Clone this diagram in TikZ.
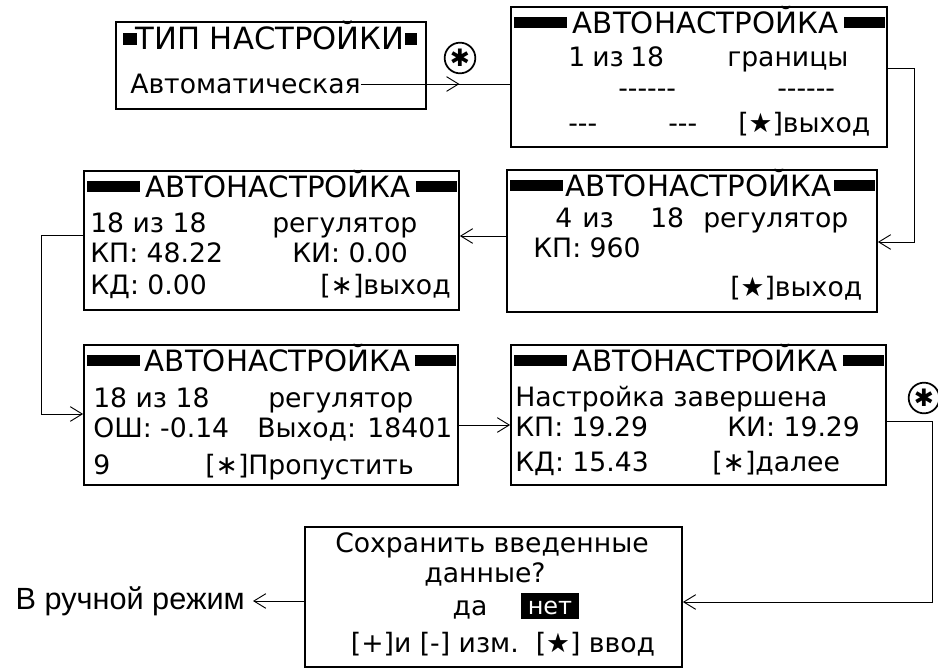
\documentclass[tikz,border=0pt]{standalone}
\usepackage{fontspec}
\setmainfont{DejaVu Sans}[Ligatures=TeXOff]
\newfontfamily\arialfont{Liberation Sans}
\usetikzlibrary{arrows.meta,decorations.markings}

\begin{document}
\begin{tikzpicture}[x=0.75pt, y=-0.75pt, >={Straight Barb[length=9pt,width=11pt]},
	screen/.style={draw, line width=1.3pt, inner sep=0pt},
	lcd/.style={font=\fontsize{20}{22}\selectfont, inner sep=0pt, anchor=west, text height=14.6pt, text depth=0pt},
	lcdtitle/.style={font=\fontsize{22}{24}\selectfont, inner sep=0pt, text height=16pt, text depth=0pt},
	starmark/.style={draw, circle, line width=1.3pt, minimum size=23pt, inner sep=0pt},
	link/.style={->, line width=0.7pt},
	midarrow/.style={postaction={decorate, decoration={markings, mark=at position 0.66 with {\arrow{>}}}}}]
	\useasboundingbox (0,0) rectangle (938,668);
	% screens
	\node[screen, minimum width=232.5pt, minimum height=65.25pt] (tip) at (271,65.5) {};
	\node[screen, minimum width=282pt, minimum height=105pt] (auto1) at (699,77) {};
	\node[screen, minimum width=277.5pt, minimum height=106.5pt] (auto4) at (692,241) {};
	\node[screen, minimum width=281.25pt, minimum height=104.25pt] (auto18) at (271.5,240.5) {};
	\node[screen, minimum width=280.5pt, minimum height=105pt] (autopid) at (271,415) {};
	\node[screen, minimum width=281.25pt, minimum height=105pt] (done) at (698.5,415) {};
	\node[screen, minimum width=282.75pt, minimum height=105pt] (save) at (493.5,597) {};
	\foreach \b in {auto1,auto4,auto18,autopid,done} {
		\fill ([shift={(4,11)}]\b.north west) rectangle ([shift={(57,22)}]\b.north west);
		\fill ([shift={(-44,11)}]\b.north east) rectangle ([shift={(-3,22)}]\b.north east);
		\node[lcdtitle] (\b-title) at ([shift={(6.5,17)}]\b.north) {АВТОНАСТРОЙКА};
	}
	% type of tuning
	\fill (123,33) rectangle (137,45);
	\fill (405,33) rectangle (417,45);
	\node[lcdtitle, font=\fontsize{23}{25}\selectfont] (tiptitle) at (270,39) {ТИП НАСТРОЙКИ};
	\node[lcd] (autotext) at (130,84) {Автоматическая};
	% step 1 of 18
	\node[lcd] (a1num) at (568,57) {1};
	\node[lcd] (a1of) at (592,57) {из};
	\node[lcd] (a1all) at (630,57) {18};
	\node[lcd] (a1mode) at (727,57) {границы};
	\node[lcd] (a1dash1) at (618,88) {------};
	\node[lcd] (a1dash2) at (777,88) {------};
	\node[lcd] (a1dash3) at (568,123) {---};
	\node[lcd] (a1dash4) at (668,123) {---};
	\node[lcd] (a1exit) at (738,123) {[★]выход};
	% step 4 of 18
	\node[lcd] (a4num) at (555,218) {4};
	\node[lcd] (a4of) at (582,218) {из};
	\node[lcd] (a4all) at (650,218) {18};
	\node[lcd] (a4mode) at (703,218) {регулятор};
	\node[lcd] (a4kp) at (533,248) {КП: 960};
	\node[lcd] (a4exit) at (730,287) {[★]выход};
	% step 18 of 18
	\node[lcd] (a18num) at (90,223) {18 из 18};
	\node[lcd] (a18mode) at (272,223) {регулятор};
	\node[lcd] (a18kp) at (90,253) {КП: 48.22};
	\node[lcd] (a18ki) at (292,253) {КИ: 0.00};
	\node[lcd] (a18kd) at (90,285) {КД: 0.00};
	\node[lcd] (a18exit) at (320,285) {[∗]выход};
	% regulator run
	\node[lcd] (pidnum) at (93,398) {18 из 18};
	\node[lcd] (pidmode) at (268,398) {регулятор};
	\node[lcd] (piderr) at (93,428) {ОШ: -0.14};
	\node[lcd] (pidout) at (257,428) {Выход: 18401};
	\node[lcd] (pidtime) at (93,465) {9};
	\node[lcd] (pidskip) at (205,465) {[∗]Пропустить};
	% finished
	\node[lcd] (donemsg) at (515,397) {Настройка завершена};
	\node[lcd] (donekp) at (515,427) {КП: 19.29};
	\node[lcd] (doneki) at (727,427) {КИ: 19.29};
	\node[lcd] (donekd) at (515,462) {КД: 15.43};
	\node[lcd] (donenext) at (712,462) {[∗]далее};
	% save question
	\node[lcd, anchor=center] (saveq1) at (492,543) {Сохранить введенные};
	\node[lcd, anchor=center] (saveq2) at (485,573) {данные?};
	\node[lcd, anchor=center] (saveyes) at (470,606) {да};
	\node[lcd, anchor=center, fill=black, text=white, inner xsep=5pt, inner ysep=3pt, font=\fontsize{18}{20}\selectfont, text height=13pt] (saveno) at (550,606) {нет};
	\node[lcd, anchor=center] (savekeys) at (503,643) {[+]и [-] изм.\ \ [★] ввод};
	\node[font=\arialfont\fontsize{23}{25}\selectfont, anchor=east, inner xsep=6pt, inner ysep=0pt] (manual) at (253,601) {В ручной режим};
	% key marks
	\node[starmark] (star1) at (460,58) {};
	\node[font=\fontsize{18}{18}\selectfont, inner sep=0pt] (star1-sign) at (star1) {✱};
	\node[starmark] (star2) at (924,398) {};
	\node[font=\fontsize{18}{18}\selectfont, inner sep=0pt] (star2-sign) at (star2) {✱};
	% connectors
	\draw[line width=0.7pt, midarrow] (autotext.east) -- (autotext.east -| auto1.west);
	\draw[link] (auto1.east |- 0,68) -- (914,68) |- (auto4.east |- 0,242);
	\draw[link] (auto4.west |- 0,236) -- (auto18.east |- 0,236);
	\draw[link] (auto18.west |- 0,235) -- (41,235) |- (autopid.west |- 0,414);
	\draw[link] (autopid.east |- 0,425) -- (done.west |- 0,425);
	\draw[link] (done.east |- 0,421) -- (932,421) |- (save.east |- 0,602);
	\draw[link] (save.west |- manual.east) -- (manual.east);
\end{tikzpicture}
\end{document}
